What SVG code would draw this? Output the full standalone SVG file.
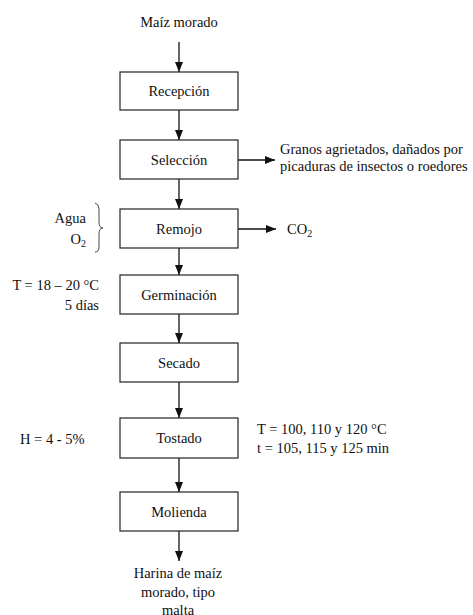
<svg xmlns="http://www.w3.org/2000/svg" width="473" height="615" viewBox="0 0 473 615" font-family="'Liberation Serif', 'Times New Roman', 'DejaVu Serif', serif">
<style>
text{font-family:'Liberation Serif','Times New Roman','DejaVu Serif',serif;font-size:14.5px;fill:#111}
.c{text-anchor:middle}
.r{text-anchor:end}
.box{fill:#fff;stroke:#222;stroke-width:1.2}
.ln{stroke:#111;stroke-width:1.3;fill:none;marker-end:url(#ah)}
.sub{font-size:10px}
</style>
<defs>
<marker id="ah" markerUnits="userSpaceOnUse" markerWidth="10" markerHeight="8" refX="10" refY="4" orient="auto">
<path d="M0,0 L10,4 L0,8 z" fill="#111"/>
</marker>
</defs>
<g id="connectors">
<line class="ln" x1="179" y1="42" x2="179" y2="72"/>
<line class="ln" x1="179" y1="110" x2="179" y2="140"/>
<line class="ln" x1="179" y1="179" x2="179" y2="209"/>
<line class="ln" x1="179" y1="248" x2="179" y2="275"/>
<line class="ln" x1="179" y1="314" x2="179" y2="343"/>
<line class="ln" x1="179" y1="382" x2="179" y2="418"/>
<line class="ln" x1="179" y1="458" x2="179" y2="492"/>
<line class="ln" x1="179" y1="531" x2="179" y2="561"/>
<line class="ln" x1="238" y1="160" x2="275" y2="160"/>
<line class="ln" x1="238" y1="229" x2="276" y2="229"/>
<path d="M95,203 Q99,204 99,209 L99,222 Q99,228 103,228 Q99,228 99,234 L99,247 Q99,252 95,252" fill="none" stroke="#333" stroke-width="0.9"/>
</g>
<g id="input"><text class="c" x="179" y="27">Maíz morado</text></g>
<g id="recepcion"><rect class="box" x="120" y="72" width="118" height="38"/><text class="c" x="179" y="96">Recepción</text></g>
<g id="seleccion"><rect class="box" x="120" y="140" width="118" height="39"/><text class="c" x="179" y="164.5">Selección</text></g>
<g id="remojo"><rect class="box" x="120" y="209" width="118" height="39"/><text class="c" x="179" y="233.5">Remojo</text></g>
<g id="germinacion"><rect class="box" x="120" y="275" width="118" height="39"/><text class="c" x="179" y="299.5">Germinación</text></g>
<g id="secado"><rect class="box" x="120" y="343" width="118" height="39"/><text class="c" x="179" y="367.5">Secado</text></g>
<g id="tostado"><rect class="box" x="120" y="418" width="118" height="40"/><text class="c" x="179" y="443">Tostado</text></g>
<g id="molienda"><rect class="box" x="120" y="492" width="118" height="39"/><text class="c" x="179" y="516.5">Molienda</text></g>
<g id="output"><text class="c" x="178" y="578">Harina de maíz</text><text class="c" x="178" y="597">morado, tipo</text><text class="c" x="178" y="615">malta</text></g>
<g id="residuo"><text x="280" y="154">Granos agrietados, dañados por</text><text x="280" y="171">picaduras de insectos o roedores</text></g>
<g id="co2"><text x="287" y="234">CO<tspan class="sub" dy="3">2</tspan></text></g>
<g id="agua-o2"><text class="r" x="86" y="223">Agua</text><text class="r" x="86" y="244">O<tspan class="sub" dy="3">2</tspan></text></g>
<g id="cond-germ"><text class="r" x="99" y="290">T = 18 – 20 °C</text><text class="r" x="99" y="310">5 días</text></g>
<g id="cond-humedad"><text x="20" y="444">H = 4 - 5%</text></g>
<g id="cond-tostado"><text x="257" y="434">T = 100, 110 y 120 °C</text><text x="257" y="453">t = 105, 115 y 125 min</text></g>
</svg>
